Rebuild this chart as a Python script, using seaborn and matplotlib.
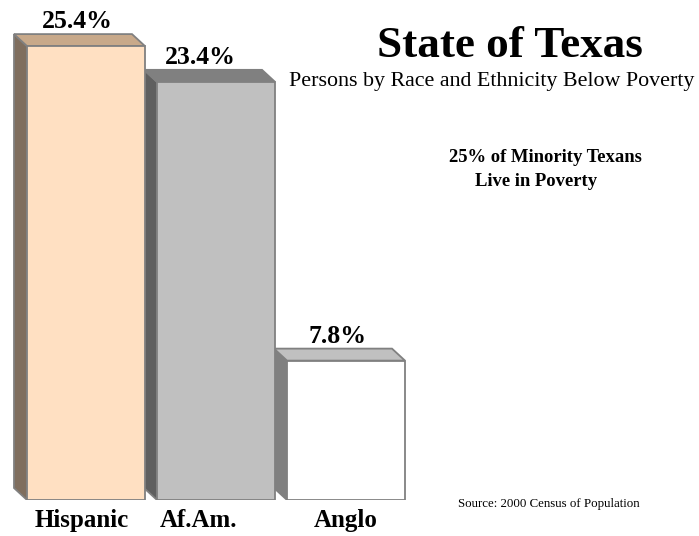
import matplotlib
matplotlib.use("Agg")
import matplotlib.pyplot as plt
from matplotlib.patches import Polygon
import seaborn as sns
import pandas as pd

# Share of each group living below the poverty line (percent)
groups = ["Hispanic", "Af.Am.", "Anglo"]
poverty_pct = [25.4, 23.4, 7.8]
value_labels = ["25.4%", "23.4%", "7.8%"]

front_colors = ["#FFE0C2", "#C0C0C0", "#FFFFFF"]
side_colors = ["#7F6E5E", "#5F5F5F", "#808080"]
top_colors = ["#C8A98A", "#808080", "#C0C0C0"]
edge_color = "#808080"

sns.set_theme(style="white")
plt.rcParams["font.family"] = ["Liberation Serif", "DejaVu Serif"]

W, H, DPI = 699, 536, 100
fig = plt.figure(figsize=(W / DPI, H / DPI), dpi=DPI)

# axes laid out so that 0 % sits on the floor line of the bars
px_per_pct = 17.87
px_per_slot = 130.0
floor_px = 500
first_center_px = 86
ax = fig.add_axes([0, (H - floor_px) / H, 1, floor_px / H])

df = pd.DataFrame({"group": groups, "pct": poverty_pct})
sns.barplot(data=df, x="group", y="pct", hue="group", order=groups,
            hue_order=groups, palette=front_colors, saturation=1,
            width=118 / px_per_slot, edgecolor=edge_color, linewidth=1.3,
            legend=False, ax=ax, zorder=3)
ax.set_ylim(0, floor_px / px_per_pct)
ax.set_xlim(-first_center_px / px_per_slot, (W - first_center_px) / px_per_slot)
ax.axis("off")

# depth of the extruded faces, in pixels (back face is up and to the left)
depth_dx = -13 / px_per_slot
depth_dy = 12 / px_per_pct
value_dx_px = [-9, -16, -8]

for i, bar in enumerate(ax.patches):
    x0 = bar.get_x()
    x1 = x0 + bar.get_width()
    h = bar.get_height()
    side = Polygon([(x0, 0), (x0 + depth_dx, depth_dy), (x0 + depth_dx, h + depth_dy), (x0, h)],
                   closed=True, facecolor=side_colors[i], edgecolor=edge_color,
                   linewidth=1.3, zorder=2)
    top = Polygon([(x0, h), (x0 + depth_dx, h + depth_dy), (x1 + depth_dx, h + depth_dy), (x1, h)],
                  closed=True, facecolor=top_colors[i], edgecolor=edge_color,
                  linewidth=1.3, zorder=2)
    ax.add_patch(side)
    ax.add_patch(top)
    bar.set_zorder(3)
    cx = x0 + bar.get_width() / 2
    ax.text(cx + value_dx_px[i] / px_per_slot, h + depth_dy + 6 / px_per_pct, value_labels[i],
            ha="center", va="baseline", fontsize=18.5, fontweight="bold", color="black")

label_dx_px = [-4, -17, 0]
for i, name in enumerate(groups):
    ax.text(i + label_dx_px[i] / px_per_slot, -27 / px_per_pct, name,
            ha="center", va="baseline", fontsize=18, fontweight="bold",
            color="black", clip_on=False)

fig.text(510 / W, 1 - 57 / H, "State of Texas", ha="center", va="baseline",
         fontsize=32.5, fontweight="bold", color="black")
fig.text(492 / W, 1 - 86 / H, "Persons by Race and Ethnicity Below Poverty",
         ha="center", va="baseline", fontsize=15.8, color="black")
fig.text(449 / W, 1 - 162 / H, "25% of Minority Texans", ha="left", va="baseline",
         fontsize=13.4, fontweight="bold", color="black")
fig.text(475 / W, 1 - 186 / H, "Live in Poverty", ha="left", va="baseline",
         fontsize=13.4, fontweight="bold", color="black")
fig.text(458 / W, 1 - 507 / H, "Source: 2000 Census of Population", ha="left",
         va="baseline", fontsize=9.3, color="black")

fig.savefig("out.png", dpi=DPI)
